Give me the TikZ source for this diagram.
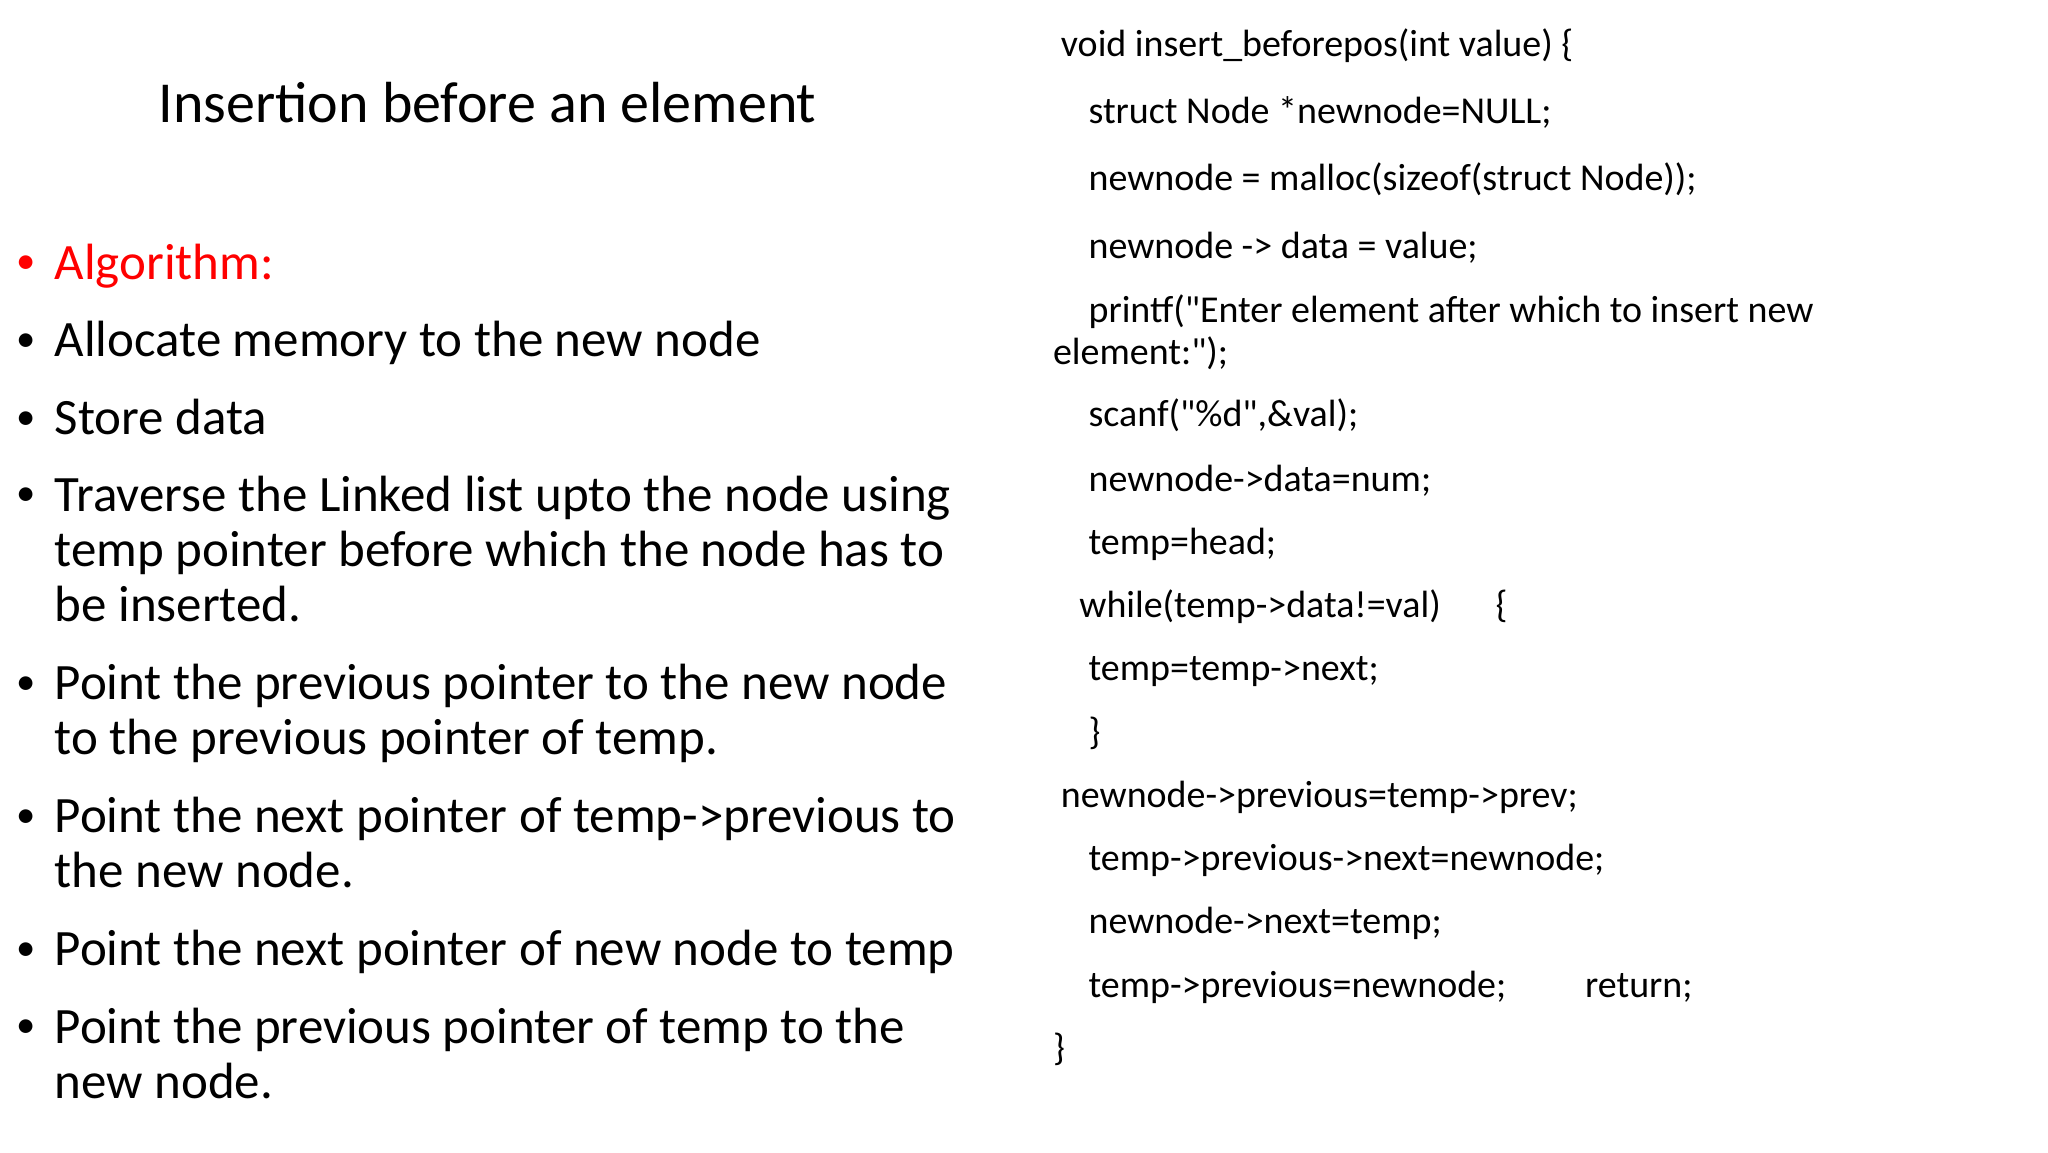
\documentclass[tikz,border=0pt]{standalone}
\usepackage{fontspec}
\setmainfont{Carlito}
\definecolor{algred}{RGB}{255,0,0}
\begin{document}
\begin{tikzpicture}[x=0.01317cm,y=-0.01317cm,
  bl/.style={anchor=base west,inner sep=0pt,font=\fontsize{14.5}{16}\selectfont},
  cd/.style={anchor=base west,inner sep=0pt,font=\fontsize{10.8}{12}\selectfont},
  dot/.style={anchor=base west,inner sep=0pt,font=\fontsize{11}{12}\selectfont}]
\useasboundingbox (0,0) rectangle (1555,875);
\node[anchor=base west,inner sep=0pt,font=\fontsize{16.5}{18}\selectfont] (title) at (120,93) {Insertion before an element};
% bullets
\node[dot,text=algred] (d1) at (12,208) {•};
\foreach \yy [count=\i] in {267,326,384,527,628,729,788}{
  \node[dot] (d\i x) at (12,\yy) {•};
}
\node[bl,text=algred] (b1) at (41,212) {Algorithm:};
\node[bl] (b2) at (41,271) {Allocate memory to the new node};
\node[bl] (b3) at (41,330) {Store data};
\node[bl] (b4a) at (41,388) {Traverse the Linked list upto the node using};
\node[bl] (b4b) at (41,430) {temp pointer before which the node has to};
\node[bl] (b4c) at (41,472) {be inserted.};
\node[bl] (b5a) at (41,531) {Point the previous pointer to the new node};
\node[bl] (b5b) at (41,573) {to the previous pointer of temp.};
\node[bl] (b6a) at (41,632) {Point the next pointer of temp->previous to};
\node[bl] (b6b) at (41,674) {the new node.};
\node[bl] (b7) at (41,733) {Point the next pointer of new node to temp};
\node[bl] (b8a) at (41,792) {Point the previous pointer of temp to the};
\node[bl] (b8b) at (41,834) {new node.};
% code
\node[cd] (c1) at (805,43) {void insert\_beforepos(int value) \{};
\node[cd] (c2) at (826,94) {struct Node *newnode=NULL;};
\node[cd] (c3) at (826,145) {newnode = malloc(sizeof(struct Node));};
\node[cd] (c4) at (826,196) {newnode -> data = value;};
\node[cd] (c5) at (826,245) {printf(\textquotedbl Enter element after which to insert new};
\node[cd] (c5b) at (799,277) {element:\textquotedbl);};
\node[cd] (c6) at (826,324) {scanf(\textquotedbl\%d\textquotedbl,\&val);};
\node[cd] (c7) at (826,373) {newnode->data=num;};
\node[cd] (c8) at (826,421) {temp=head;};
\node[cd] (c9) at (819,469) {while(temp->data!=val)};
\node[cd] (c9b) at (1135,469) {\{};
\node[cd] (c10) at (826,517) {temp=temp->next;};
\node[cd] (c11) at (826,565) {\}};
\node[cd] (c12) at (805,613) {newnode->previous=temp->prev;};
\node[cd] (c13) at (826,661) {temp->previous->next=newnode;};
\node[cd] (c14) at (826,709) {newnode->next=temp;};
\node[cd] (c15) at (826,757) {temp->previous=newnode;};
\node[cd] (c15b) at (1203,757) {return;};
\node[cd] (c16) at (799,805) {\}};
\end{tikzpicture}
\end{document}
